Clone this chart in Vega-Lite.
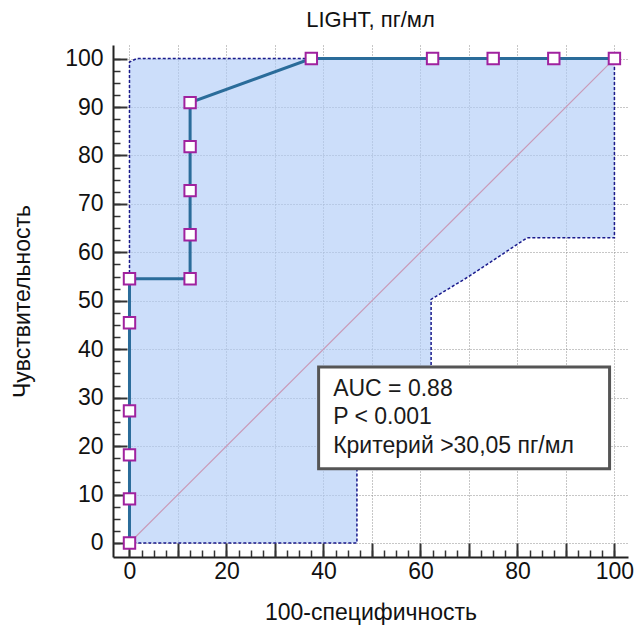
{
  "$schema": "https://vega.github.io/schema/vega-lite/v6.json",
  "width": 515,
  "height": 512,
  "autosize": {"type": "none"},
  "padding": {"left": 113, "top": 45, "right": 8, "bottom": 70},
  "background": "white",
  "config": {"view": {"stroke": null}, "font": "Liberation Sans"},
  "title": {"text": "LIGHT, пг/мл", "fontSize": 22, "fontWeight": "normal", "font": "Liberation Sans", "color": "#111", "anchor": "middle", "baseline": "alphabetic", "offset": -4},
  "datasets": {
    "roc": [
      {"i": 0, "x": 0, "y": 0},
      {"i": 1, "x": 0, "y": 9.09},
      {"i": 2, "x": 0, "y": 18.18},
      {"i": 3, "x": 0, "y": 27.27},
      {"i": 4, "x": 0, "y": 45.45},
      {"i": 5, "x": 0, "y": 54.55},
      {"i": 6, "x": 12.5, "y": 54.55},
      {"i": 7, "x": 12.5, "y": 63.64},
      {"i": 8, "x": 12.5, "y": 72.73},
      {"i": 9, "x": 12.5, "y": 81.82},
      {"i": 10, "x": 12.5, "y": 90.91},
      {"i": 11, "x": 37.5, "y": 100},
      {"i": 12, "x": 62.5, "y": 100},
      {"i": 13, "x": 75, "y": 100},
      {"i": 14, "x": 87.5, "y": 100},
      {"i": 15, "x": 100, "y": 100}
    ],
    "band": [
      {"i": 0, "x": 0, "y": 0},
      {"i": 1, "x": 0, "y": 99.3},
      {"i": 2, "x": 1.5, "y": 100},
      {"i": 3, "x": 100, "y": 100},
      {"i": 4, "x": 100, "y": 63},
      {"i": 5, "x": 82, "y": 63},
      {"i": 6, "x": 69.8, "y": 54.9},
      {"i": 7, "x": 62.2, "y": 50.3},
      {"i": 8, "x": 62.2, "y": 34},
      {"i": 9, "x": 46.9, "y": 17},
      {"i": 10, "x": 46.9, "y": 0},
      {"i": 11, "x": 0, "y": 0}
    ],
    "diag": [
      {"x": 0, "y": 0},
      {"x": 100, "y": 100}
    ],
    "box": [
      {"x": 39, "x2": 99, "y": 15.3, "y2": 36.3}
    ],
    "notes": [
      {"x": 42, "y": 30.3, "label": "AUC = 0.88"},
      {"x": 42, "y": 24.5, "label": "P < 0.001"},
      {"x": 42, "y": 18.6, "label": "Критерий >30,05 пг/мл"}
    ]
  },
  "layer": [
    {
      "data": {"name": "band"},
      "mark": {"type": "line", "fill": "#b0cdf8", "fillOpacity": 0.65, "stroke": "#1a1a8c", "strokeWidth": 1.5, "strokeDash": [3, 2]},
      "encoding": {
        "x": {"field": "x", "type": "quantitative", "scale": {"domain": [-3.4, 102.8], "nice": false, "zero": false},
          "axis": {"orient": "bottom", "values": [0, 10, 20, 30, 40, 50, 60, 70, 80, 90, 100], "grid": true, "gridColor": "#8f8f8f", "gridDash": [1, 2], "gridWidth": 1, "labels": false, "ticks": false, "domain": false, "title": null}},
        "y": {"field": "y", "type": "quantitative", "scale": {"domain": [-2.9, 102.8], "nice": false, "zero": false},
          "axis": {"orient": "left", "values": [0, 10, 20, 30, 40, 50, 60, 70, 80, 90, 100], "grid": true, "gridColor": "#8f8f8f", "gridDash": [1, 2], "gridWidth": 1, "labels": false, "ticks": false, "domain": false, "title": null}},
        "order": {"field": "i", "type": "quantitative"}
      }
    },
    {
      "data": {"name": "diag"},
      "mark": {"type": "line", "color": "#c99ab8", "strokeWidth": 1.2},
      "encoding": {
        "x": {"field": "x", "type": "quantitative", "scale": {"domain": [-3.4, 102.8], "nice": false, "zero": false},
          "axis": {"orient": "bottom", "values": [0, 2.5, 5, 7.5, 10, 12.5, 15, 17.5, 20, 22.5, 25, 27.5, 30, 32.5, 35, 37.5, 40, 42.5, 45, 47.5, 50, 52.5, 55, 57.5, 60, 62.5, 65, 67.5, 70, 72.5, 75, 77.5, 80, 82.5, 85, 87.5, 90, 92.5, 95, 97.5, 100], "tickSize": -7, "tickWidth": 1.5, "tickColor": "#333", "labels": false, "grid": false, "domain": true, "domainColor": "#222", "domainWidth": 2, "title": null}},
        "y": {"field": "y", "type": "quantitative", "scale": {"domain": [-2.9, 102.8], "nice": false, "zero": false},
          "axis": {"orient": "left", "values": [0, 2.5, 5, 7.5, 10, 12.5, 15, 17.5, 20, 22.5, 25, 27.5, 30, 32.5, 35, 37.5, 40, 42.5, 45, 47.5, 50, 52.5, 55, 57.5, 60, 62.5, 65, 67.5, 70, 72.5, 75, 77.5, 80, 82.5, 85, 87.5, 90, 92.5, 95, 97.5, 100], "tickSize": -7, "tickWidth": 1.5, "tickColor": "#333", "labels": false, "grid": false, "domain": true, "domainColor": "#222", "domainWidth": 2, "title": null}}
      }
    },
    {
      "data": {"name": "roc"},
      "mark": {"type": "line", "color": "#2a6c9a", "strokeWidth": 3},
      "encoding": {
        "x": {"field": "x", "type": "quantitative", "scale": {"domain": [-3.4, 102.8], "nice": false, "zero": false},
          "axis": {"orient": "bottom", "values": [0, 10, 20, 30, 40, 50, 60, 70, 80, 90, 100], "labelExpr": "datum.value % 20 == 0 ? datum.label : ''", "tickSize": -14, "tickWidth": 2, "tickColor": "#333", "labelPadding": 17, "labelFontSize": 23, "labelFont": "Liberation Sans", "labelColor": "#111", "grid": false, "domain": false, "title": "100-специфичность", "titleFontSize": 23, "titleFont": "Liberation Sans", "titleFontWeight": "normal", "titleColor": "#111", "titlePadding": 18}},
        "y": {"field": "y", "type": "quantitative", "scale": {"domain": [-2.9, 102.8], "nice": false, "zero": false},
          "axis": {"orient": "left", "values": [0, 10, 20, 30, 40, 50, 60, 70, 80, 90, 100], "tickSize": -14, "tickWidth": 2, "tickColor": "#333", "labelPadding": 24, "labelFontSize": 23, "labelFont": "Liberation Sans", "labelColor": "#111", "grid": false, "domain": false, "title": "Чувствительность", "titleFontSize": 23, "titleFont": "Liberation Sans", "titleFontWeight": "normal", "titleColor": "#111", "titlePadding": 30}},
        "order": {"field": "i", "type": "quantitative"}
      }
    },
    {
      "data": {"name": "roc"},
      "mark": {"type": "point", "shape": "square", "filled": true, "fill": "white", "stroke": "#a0229f", "strokeWidth": 2, "size": 130, "opacity": 1},
      "encoding": {
        "x": {"field": "x", "type": "quantitative", "axis": null},
        "y": {"field": "y", "type": "quantitative", "axis": null}
      }
    },
    {
      "data": {"name": "box"},
      "mark": {"type": "rect", "fill": "white", "stroke": "#555", "strokeWidth": 3},
      "encoding": {
        "x": {"field": "x", "type": "quantitative", "axis": null},
        "x2": {"field": "x2"},
        "y": {"field": "y", "type": "quantitative", "axis": null},
        "y2": {"field": "y2"}
      }
    },
    {
      "data": {"name": "notes"},
      "mark": {"type": "text", "align": "left", "baseline": "alphabetic", "fontSize": 23, "font": "Liberation Sans", "color": "#1a1a1a"},
      "encoding": {
        "x": {"field": "x", "type": "quantitative", "axis": null},
        "y": {"field": "y", "type": "quantitative", "axis": null},
        "text": {"field": "label"}
      }
    }
  ],
  "resolve": {"axis": {"x": "independent", "y": "independent"}}
}
